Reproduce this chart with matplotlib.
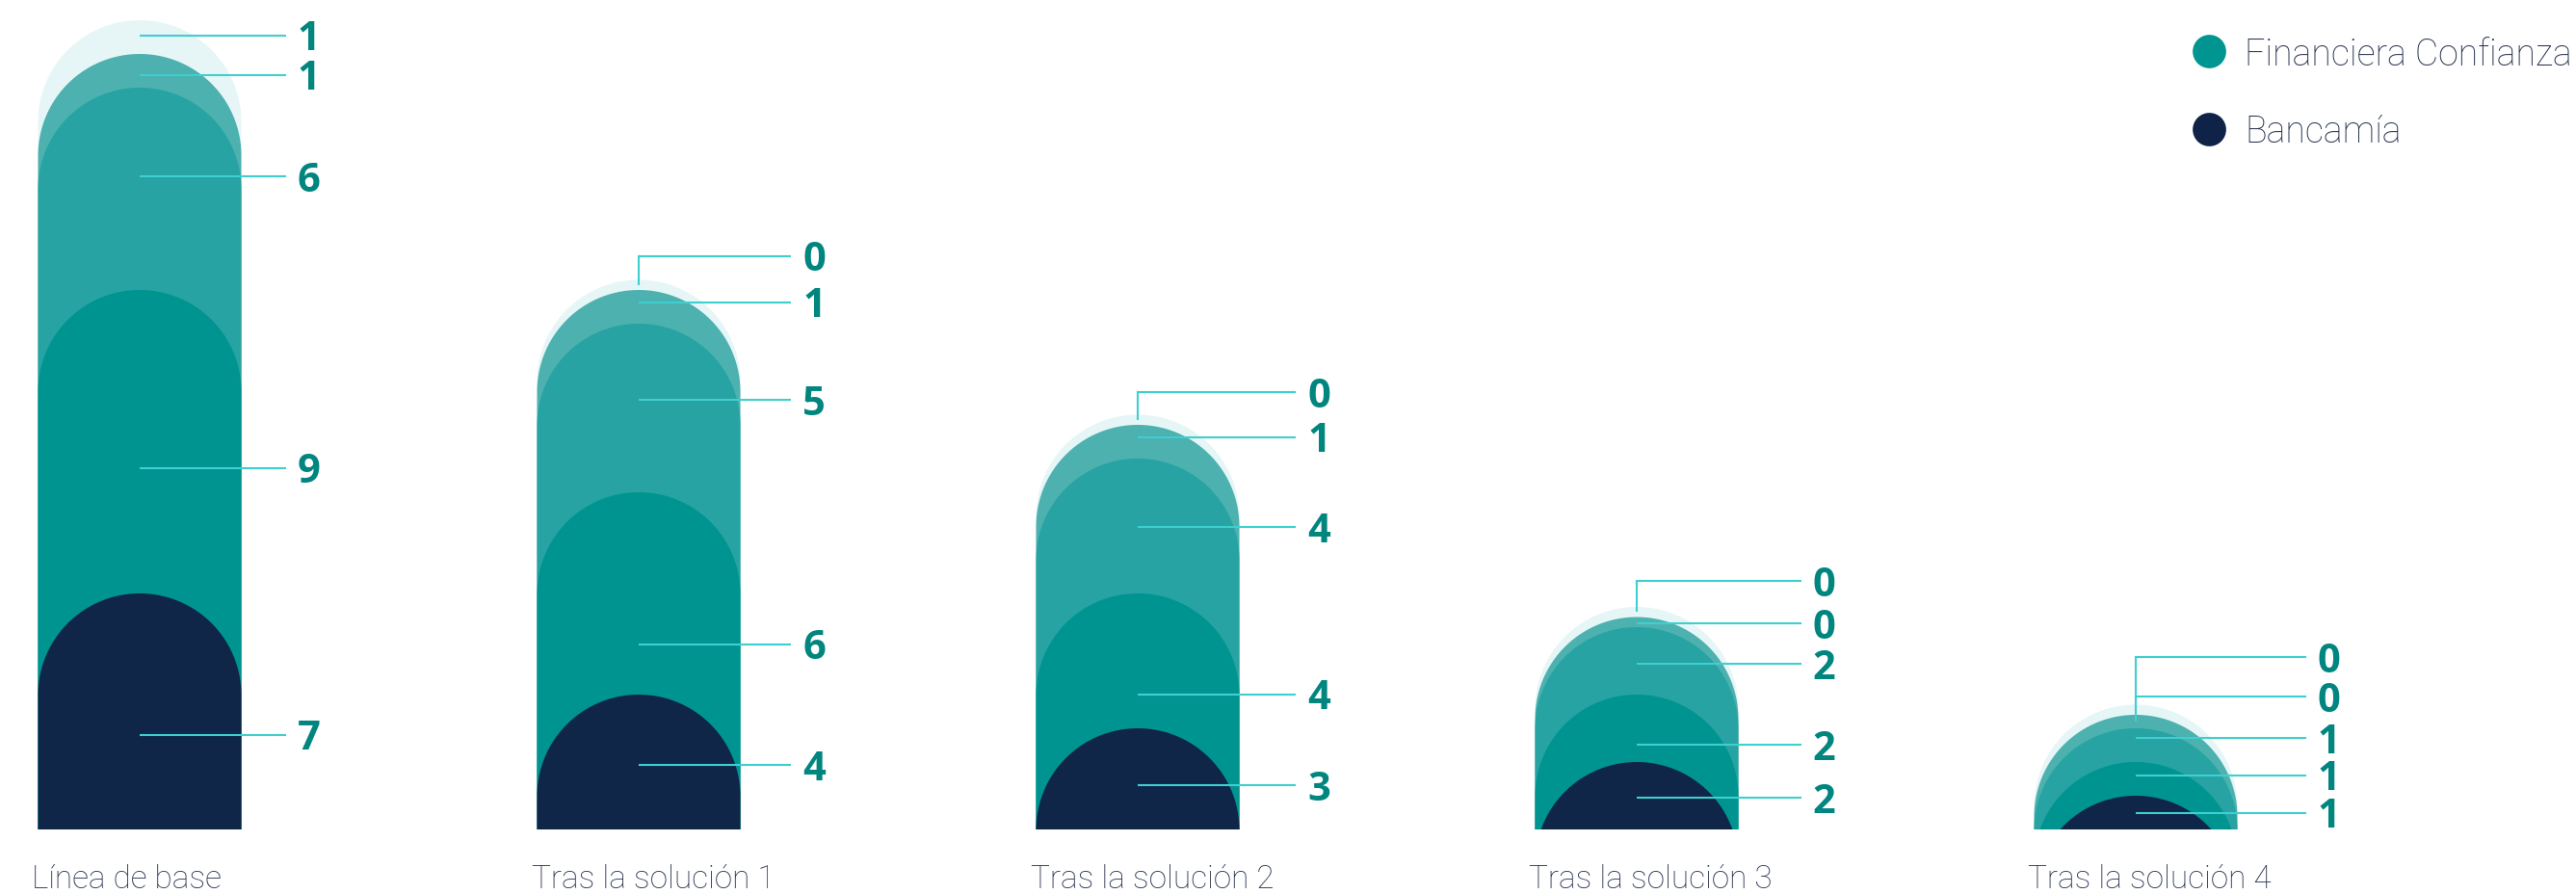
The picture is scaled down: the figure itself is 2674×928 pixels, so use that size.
import numpy as np
import matplotlib.pyplot as plt
from matplotlib.patches import Polygon
from matplotlib.lines import Line2D

# --- data -------------------------------------------------------------
categories = ["Línea de base", "Tras la solución 1", "Tras la solución 2",
              "Tras la solución 3", "Tras la solución 4"]
bancamia = [7, 4, 3, 2, 1]
financiera = [9, 6, 4, 2, 1]
tramo_3 = [6, 5, 4, 2, 1]
tramo_4 = [1, 1, 1, 0.3, 0.4]
tramo_5 = [1, 0.3, 0.3, 0.3, 0.3]

series = [bancamia, financiera, tramo_3, tramo_4, tramo_5]
colors = ["#0F2649", "#009490", "#26A3A2", "#4DB1B0", "#E6F6F6"]

# vertical level (in value units) where each value label sits
label_levels = [
    [2.81, 10.72, 19.36, 22.38, 23.55],
    [1.91, 5.49, 12.74, 15.63, 17.0],
    [1.31, 4.0, 8.97, 11.63, 12.97],
    [0.94, 2.51, 4.91, 6.11, 7.37],
    [0.49, 1.6, 2.71, 3.94, 5.11],
]

# --- figure / scales ---------------------------------------------------
W, H, DPI = 2674, 929, 100
fig = plt.figure(figsize=(W / DPI, H / DPI), dpi=DPI)
ax = fig.add_axes([0, 0, 1, 1])
ax.axis("off")

step_px = 518.0   # pixels between category centres
unit_px = 35.0    # pixels per value unit
x0_px, y0_px = 145.0, 862.0
ax.set_xlim(-x0_px / step_px, (W - x0_px) / step_px)
ax.set_ylim(-(H - y0_px) / unit_px, y0_px / unit_px)

radius_px = 105.5
w = radius_px / step_px      # half bar width in x units
ry = radius_px / unit_px     # cap radius in y units


def bullet(c, top):
    """Bar with a round cap, clipped at the baseline."""
    if top >= ry:
        t = np.linspace(np.pi, 0, 160)
        xs = np.concatenate([[c - w], c + w * np.cos(t), [c + w]])
        ys = np.concatenate([[0], top - ry + ry * np.sin(t), [0]])
    else:
        t0 = np.arcsin((ry - top) / ry)
        t = np.linspace(np.pi - t0, t0, 160)
        xs = c + w * np.cos(t)
        ys = top - ry + ry * np.sin(t)
    return np.column_stack([xs, ys])


line_color = "#3ECFD0"
value_color = "#00857F"
text_color = "#27324F"
text_font = {"family": "Roboto", "weight": "light"}

for i, cat in enumerate(categories):
    c = float(i)
    vals = [s[i] for s in series]
    cum = np.cumsum(vals)

    # tallest layer first, so each lower layer sits on top
    for k in range(len(vals) - 1, -1, -1):
        ax.add_patch(Polygon(bullet(c, cum[k]), closed=True,
                             facecolor=colors[k], edgecolor="none", zorder=1 + (5 - k)))

    label_x = c + (164 + 6.2 * i) / step_px
    line_end = label_x - 12 / step_px
    for k, v in enumerate(vals):
        lvl = label_levels[i][k]
        lo = cum[k - 1] if k > 0 else 0.0
        hi = cum[k]
        if lo <= lvl <= hi:
            xs, ys = [c, line_end], [lvl, lvl]
        else:
            mid = (lo + hi) / 2
            xs, ys = [c, c, line_end], [mid, lvl, lvl]
        ax.plot(xs, ys, color=line_color, lw=1.5, zorder=10,
                solid_joinstyle="miter", solid_capstyle="butt")
        ax.text(label_x, lvl - 4 / unit_px, f"{v:.0f}", ha="left", va="center",
                fontsize=30, fontweight="bold", family="Open Sans",
                color=value_color, zorder=11)

    ax.text(c - w - 6 / step_px, -60 / unit_px, cat, ha="left", va="baseline",
            fontsize=24, color=text_color, **text_font)

handles = [
    Line2D([], [], marker="o", ls="", ms=25, markerfacecolor="#009590",
           markeredgecolor="none", label="Financiera Confianza"),
    Line2D([], [], marker="o", ls="", ms=25, markerfacecolor="#0F2349",
           markeredgecolor="none", label="Bancamía"),
]
fig.legend(handles=handles, loc="upper left",
           bbox_to_anchor=(2274 / W, 1 - 38 / H), frameon=False,
           prop={**text_font, "size": 27},
           labelcolor=text_color, handlelength=1.0, handletextpad=0.5,
           labelspacing=1.15, borderpad=0, borderaxespad=0)

fig.savefig("out.png", dpi=DPI, facecolor="white")
